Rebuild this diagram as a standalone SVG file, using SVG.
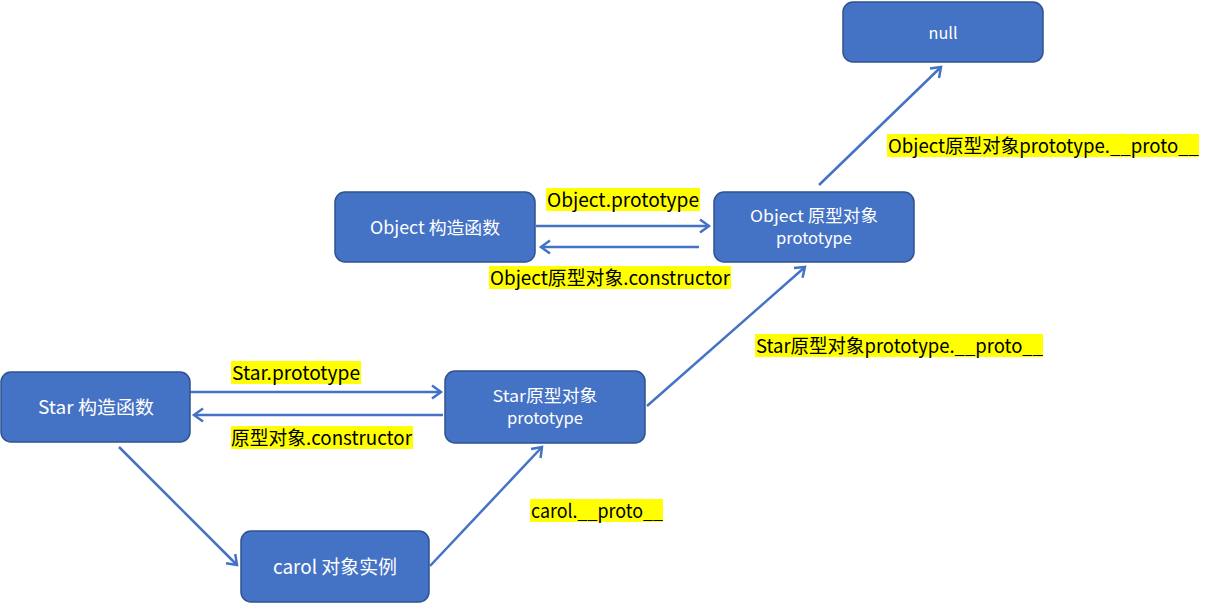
<svg xmlns="http://www.w3.org/2000/svg" width="1228" height="604" viewBox="0 0 1228 604">
<style>
.node rect{fill:#4472C4;stroke:#2F528F;stroke-width:1.5}
.node text{fill:#fff;font-family:"Microsoft YaHei","Noto Sans CJK SC",sans-serif;text-anchor:middle;dominant-baseline:central}
.conn line{stroke:#4472C4;stroke-width:2.5;marker-end:url(#arr)}
.lbl rect{fill:#FFFF00}
.lbl text{fill:#000;font-family:"Microsoft YaHei","Noto Sans CJK SC",sans-serif;font-size:19px;dominant-baseline:central}
</style>
<defs>
<marker id="arr" markerWidth="16" markerHeight="16" refX="11" refY="8" orient="auto" markerUnits="userSpaceOnUse">
<path d="M2,1.5 L11,8 L2,14.5" fill="none" stroke="#4472C4" stroke-width="2.5"/>
</marker>
</defs>
<rect width="1228" height="604" fill="#fff"/>
<g class="conn">
<line x1="190" y1="392" x2="441" y2="392"/>
<line x1="443" y1="415" x2="194" y2="415"/>
<line x1="119" y1="447" x2="237" y2="565"/>
<line x1="430" y1="566" x2="542" y2="447"/>
<line x1="647" y1="406" x2="805" y2="267"/>
<line x1="536" y1="226" x2="709" y2="226"/>
<line x1="699" y1="247" x2="541" y2="247"/>
<line x1="819" y1="185" x2="941" y2="67"/>
</g>
<g id="null" class="node"><rect x="843" y="2" width="200" height="60" rx="10"/><text x="943" y="32" font-size="16" textLength="29" lengthAdjust="spacingAndGlyphs">null</text></g>
<g id="objCtor" class="node"><rect x="335" y="192" width="200" height="70" rx="10"/><text x="435" y="226" font-size="17.5" textLength="130" lengthAdjust="spacingAndGlyphs">Object 构造函数</text></g>
<g id="objProto" class="node"><rect x="714" y="192" width="200" height="70" rx="10"/><text x="814" y="215" font-size="16.5" textLength="128" lengthAdjust="spacingAndGlyphs">Object 原型对象</text><text x="814" y="237" font-size="16" textLength="76" lengthAdjust="spacingAndGlyphs">prototype</text></g>
<g id="starCtor" class="node"><rect x="1" y="372" width="189" height="70" rx="10"/><text x="96" y="406" font-size="18.5" textLength="116" lengthAdjust="spacingAndGlyphs">Star 构造函数</text></g>
<g id="starProto" class="node"><rect x="445" y="371" width="200" height="72" rx="10"/><text x="545" y="395" font-size="16.5" textLength="105" lengthAdjust="spacingAndGlyphs">Star原型对象</text><text x="545" y="417" font-size="16" textLength="76" lengthAdjust="spacingAndGlyphs">prototype</text></g>
<g id="carol" class="node"><rect x="241" y="531" width="188" height="71" rx="10"/><text x="335" y="565" font-size="19" textLength="124" lengthAdjust="spacingAndGlyphs">carol 对象实例</text></g>
<g class="lbl">
<rect x="231" y="361" width="130" height="23"/><text x="232" y="371" textLength="128" lengthAdjust="spacingAndGlyphs">Star.prototype</text>
<rect x="231" y="426" width="182" height="23"/><text x="231" y="436" textLength="181" lengthAdjust="spacingAndGlyphs">原型对象.constructor</text>
<rect x="546" y="188" width="154" height="23"/><text x="547" y="198" textLength="152" lengthAdjust="spacingAndGlyphs">Object.prototype</text>
<rect x="489" y="266" width="242" height="23"/><text x="490" y="276" textLength="240" lengthAdjust="spacingAndGlyphs">Object原型对象.constructor</text>
<rect x="755" y="334" width="288" height="23"/><text x="756" y="344" textLength="287" lengthAdjust="spacingAndGlyphs">Star原型对象prototype.__proto__</text>
<rect x="887" y="134" width="312" height="23"/><text x="888" y="144" textLength="311" lengthAdjust="spacingAndGlyphs">Object原型对象prototype.__proto__</text>
<rect x="530" y="499" width="133" height="23"/><text x="531" y="509" textLength="132" lengthAdjust="spacingAndGlyphs">carol.__proto__</text>
</g>
</svg>
